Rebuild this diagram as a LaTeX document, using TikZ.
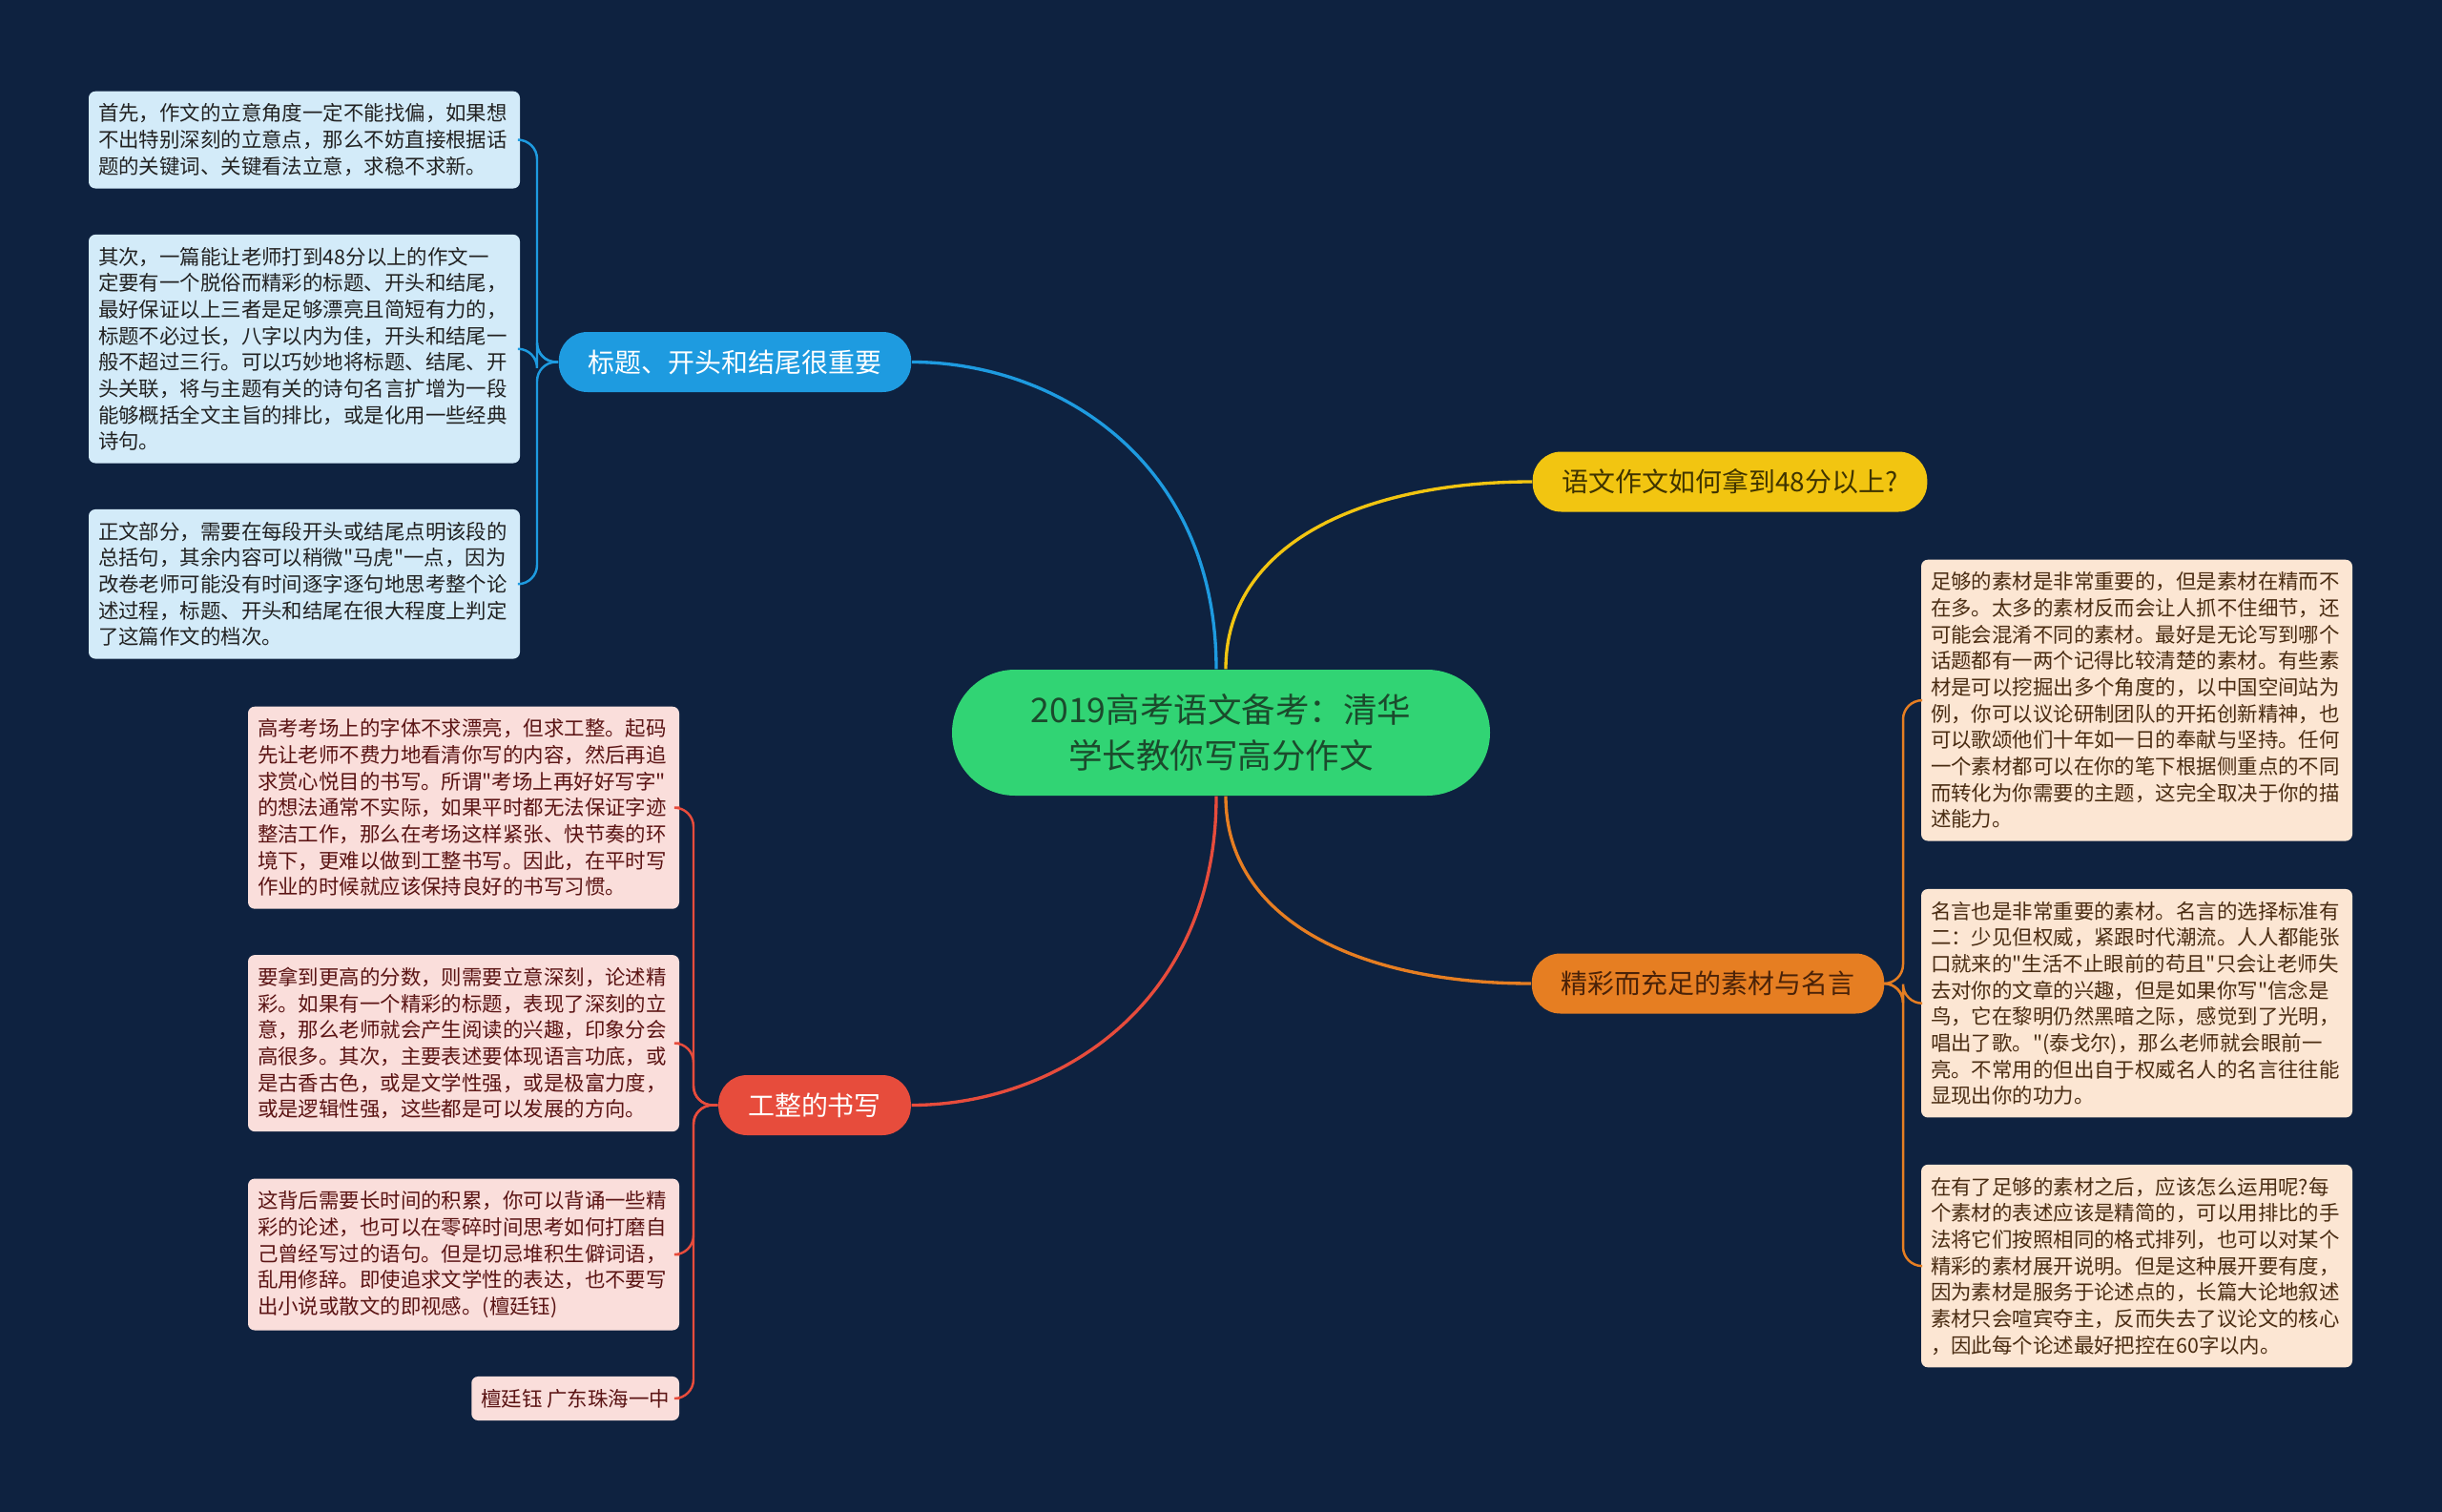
\documentclass[tikz,border=0pt]{standalone}
\usepackage{fontspec}
\setmainfont{Noto Sans CJK SC}[Ligatures=TeXOff]
\usetikzlibrary{positioning, calc}
\definecolor{bgMain}{HTML}{0E2240}
\definecolor{hubFill}{HTML}{31D474}
\definecolor{hubText}{HTML}{1B4A2C}
\definecolor{blueMain}{HTML}{1E9BE0}
\definecolor{blueLeaf}{HTML}{D3EBF9}
\definecolor{yellowMain}{HTML}{F2C511}
\definecolor{yellowText}{HTML}{3F3300}
\definecolor{orangeMain}{HTML}{E67E22}
\definecolor{orangeText}{HTML}{4A2208}
\definecolor{orangeLeaf}{HTML}{FCE6D3}
\definecolor{redMain}{HTML}{E74C3C}
\definecolor{redLeaf}{HTML}{FADEDB}
\definecolor{leafDark}{HTML}{222222}
\definecolor{redText}{HTML}{5B1414}
\definecolor{brownText}{HTML}{4A2C12}
\tikzset{
  hub/.style={fill=hubFill, rounded corners=0.66cm,
    minimum width=5.64cm, minimum height=1.32cm,
    text=hubText, align=center, font=\fontsize{10.1pt}{13.7pt}\selectfont},
  topic/.style={rounded corners=0.3cm, minimum height=0.63cm,
    inner xsep=0.31cm, inner ysep=0pt, font=\fontsize{7.95pt}{9.5pt}\selectfont},
  leaf/.style={rounded corners=0.07cm, text width=4.32cm,
    inner xsep=0.1cm, inner ysep=3.7pt, align=left,
    font=\fontsize{6.1pt}{7.87pt}\selectfont},
  tag/.style={rounded corners=0.07cm, inner xsep=0.1cm, inner ysep=3.7pt,
    font=\fontsize{6.1pt}{7.87pt}\selectfont},
  branch/.style={line width=0.95pt},
  twig/.style={line width=0.7pt, rounded corners=0.2cm},
}

\begin{document}
\begin{tikzpicture}

  % === Background and page size ===
  \fill[bgMain] (0,0) rectangle (25.6,-15.85);
  \useasboundingbox (0,0) rectangle (25.6,-15.85);

  % === Central topic ===
  \node[hub] (hub) at (12.80,-7.68) {2019高考语文备考：清华\\学长教你写高分作文};

  % === Main topics ===
  \node[topic, fill=blueMain, text=white] (title) at (7.705,-3.795) {标题、开头和结尾很重要};
  \node[topic, fill=yellowMain, text=yellowText] (goal) at (18.135,-5.05) {语文作文如何拿到48分以上?};
  \node[topic, fill=orangeMain, text=orangeText] (craft) at (17.905,-10.31) {精彩而充足的素材与名言};
  \node[topic, fill=redMain, text=white] (hand) at (8.54,-11.585) {工整的书写};

  % === Leaves: title branch ===
  \node[leaf, fill=blueLeaf, text=leafDark, anchor=north] (t1) at (3.19,-0.95) {首先，作文的立意角度一定不能找偏，如果想\\不出特别深刻的立意点，那么不妨直接根据话\\题的关键词、关键看法立意，求稳不求新。};
  \node[leaf, fill=blueLeaf, text=leafDark, below=0.47cm of t1] (t2) {其次，一篇能让老师打到48分以上的作文一\\定要有一个脱俗而精彩的标题、开头和结尾，\\最好保证以上三者是足够漂亮且简短有力的，\\标题不必过长，八字以内为佳，开头和结尾一\\般不超过三行。可以巧妙地将标题、结尾、开\\头关联，将与主题有关的诗句名言扩增为一段\\能够概括全文主旨的排比，或是化用一些经典\\诗句。};
  \node[leaf, fill=blueLeaf, text=leafDark, below=0.47cm of t2] (t3) {正文部分，需要在每段开头或结尾点明该段的\\总括句，其余内容可以稍微"马虎"一点，因为\\改卷老师可能没有时间逐字逐句地思考整个论\\述过程，标题、开头和结尾在很大程度上判定\\了这篇作文的档次。};

  % === Leaves: handwriting branch ===
  \node[leaf, fill=redLeaf, text=redText, anchor=north] (h1) at (4.86,-7.40) {高考考场上的字体不求漂亮，但求工整。起码\\先让老师不费力地看清你写的内容，然后再追\\求赏心悦目的书写。所谓"考场上再好好写字"\\的想法通常不实际，如果平时都无法保证字迹\\整洁工作，那么在考场这样紧张、快节奏的环\\境下，更难以做到工整书写。因此，在平时写\\作业的时候就应该保持良好的书写习惯。};
  \node[leaf, fill=redLeaf, text=redText, below=0.47cm of h1] (h2) {要拿到更高的分数，则需要立意深刻，论述精\\彩。如果有一个精彩的标题，表现了深刻的立\\意，那么老师就会产生阅读的兴趣，印象分会\\高很多。其次，主要表述要体现语言功底，或\\是古香古色，或是文学性强，或是极富力度，\\或是逻辑性强，这些都是可以发展的方向。};
  \node[leaf, fill=redLeaf, text=redText, below=0.48cm of h2] (h3) {这背后需要长时间的积累，你可以背诵一些精\\彩的论述，也可以在零碎时间思考如何打磨自\\己曾经写过的语句。但是切忌堆积生僻词语，\\乱用修辞。即使追求文学性的表达，也不要写\\出小说或散文的即视感。(檀廷钰)};
  \node[tag, fill=redLeaf, text=redText, below left=0.47cm and 0cm of h3.south east] (h4) {檀廷钰 广东珠海一中};

  % === Leaves: material branch ===
  \node[leaf, fill=orangeLeaf, text=brownText, anchor=north] (m1) at (22.40,-5.86) {足够的素材是非常重要的，但是素材在精而不\\在多。太多的素材反而会让人抓不住细节，还\\可能会混淆不同的素材。最好是无论写到哪个\\话题都有一两个记得比较清楚的素材。有些素\\材是可以挖掘出多个角度的，以中国空间站为\\例，你可以议论研制团队的开拓创新精神，也\\可以歌颂他们十年如一日的奉献与坚持。任何\\一个素材都可以在你的笔下根据侧重点的不同\\而转化为你需要的主题，这完全取决于你的描\\述能力。};
  \node[leaf, fill=orangeLeaf, text=brownText, below=0.49cm of m1] (m2) {名言也是非常重要的素材。名言的选择标准有\\二：少见但权威，紧跟时代潮流。人人都能张\\口就来的"生活不止眼前的苟且"只会让老师失\\去对你的文章的兴趣，但是如果你写"信念是\\鸟，它在黎明仍然黑暗之际，感觉到了光明，\\唱出了歌。"(泰戈尔)，那么老师就会眼前一\\亮。不常用的但出自于权威名人的名言往往能\\显现出你的功力。};
  \node[leaf, fill=orangeLeaf, text=brownText, below=0.48cm of m2] (m3) {在有了足够的素材之后，应该怎么运用呢?每\\个素材的表述应该是精简的，可以用排比的手\\法将它们按照相同的格式排列，也可以对某个\\精彩的素材展开说明。但是这种展开要有度，\\因为素材是服务于论述点的，长篇大论地叙述\\素材只会喧宾夺主，反而失去了议论文的核心\\，因此每个论述最好把控在60字以内。};

  % === Hub -> main topics ===
  \coordinate (hubNL) at ($(hub.north)+(-0.05,0)$);
  \coordinate (hubNR) at ($(hub.north)+(0.05,0)$);
  \coordinate (hubSL) at ($(hub.south)+(-0.05,0)$);
  \coordinate (hubSR) at ($(hub.south)+(0.05,0)$);
  \draw[branch, blueMain] (hubNL) .. controls ($(hubNL)+(0,2.2)$) and ($(title.east)+(1.5,0)$) .. (title.east);
  \draw[branch, yellowMain] (hubNR) .. controls ($(hubNR)+(0,1.3)$) and ($(goal.west)+(-1.8,0)$) .. (goal.west);
  \draw[branch, redMain] (hubSL) .. controls ($(hubSL)+(0,-2.2)$) and ($(hand.east)+(1.5,0)$) .. (hand.east);
  \draw[branch, orangeMain] (hubSR) .. controls ($(hubSR)+(0,-1.3)$) and ($(craft.west)+(-1.8,0)$) .. (craft.west);

  % === Main topics -> leaves ===
  \coordinate (tspine) at (5.63,0);
  \coordinate (hspine) at (7.27,0);
  \coordinate (mspine) at (19.95,0);
  \foreach \n in {t1,t2,t3}
    \draw[twig, blueMain] (title.west) -| (tspine |- \n.east) -- (\n.east);
  \foreach \n in {h1,h2,h3,h4}
    \draw[twig, redMain] (hand.west) -| (hspine |- \n.east) -- (\n.east);
  \foreach \n in {m1,m2,m3}
    \draw[twig, orangeMain] (craft.east) -| (mspine |- \n.west) -- (\n.west);

\end{tikzpicture}
\end{document}
